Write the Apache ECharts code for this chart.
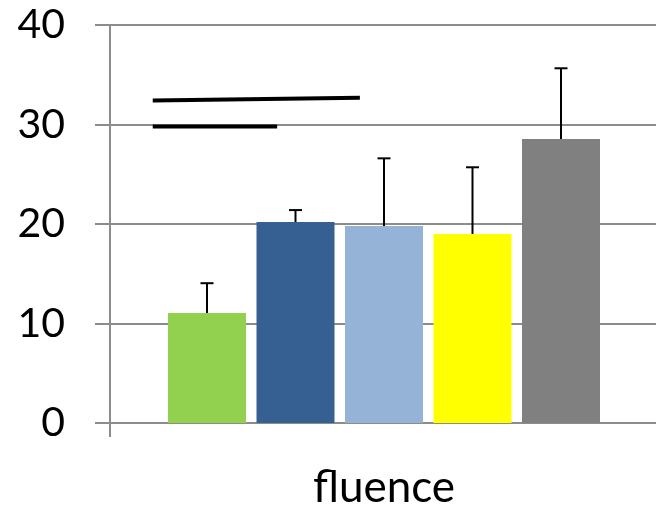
<!DOCTYPE html>
<html>
<head>
<meta charset="utf-8">
<script src="https://cdn.jsdelivr.net/npm/echarts@6/dist/echarts.min.js"></script>
<style>
html,body{margin:0;padding:0;background:#fff;}
#chart{width:656px;height:506px;}
</style>
</head>
<body>
<div id="chart"></div>
<script>
// ---- data ----
const categories = ['fluence'];
const seriesNames = ['Group 1', 'Group 2', 'Group 3', 'Group 4', 'Group 5'];
const means = [11.05, 20.2, 19.8, 19.0, 28.55];
const errUp = [3.0, 1.2, 6.8, 6.7, 7.1];
const yTicks = [0, 10, 20, 30, 40];
// significance lines: [fraction of plot width, value]
const sigLineA = [[0.078, 32.4], [0.456, 32.7]];
const sigLineB = [[0.078, 29.8], [0.305, 29.8]];

// ---- style ----
const colors = ['#92D050', '#376092', '#95B3D7', '#FFFF00', '#808080'];
const BAR_W = 78;
const GAP_PX = 10.5;
const axisGray = '#8c8c8c';
const FONT = 'Lato';

const chart = echarts.init(document.getElementById('chart'), null, {renderer: 'canvas'});

const barSeries = seriesNames.map((n, i) => ({
  name: n,
  type: 'bar',
  xAxisIndex: 0,
  yAxisIndex: 0,
  data: [means[i]],
  barWidth: BAR_W,
  barGap: (GAP_PX / BAR_W * 100) + '%',
  itemStyle: {color: colors[i]},
  z: 2
}));

const errData = means.map((m, i) => [0, m, m + errUp[i], i]);

const errSeries = {
  type: 'custom',
  xAxisIndex: 0,
  yAxisIndex: 0,
  data: errData,
  z: 5,
  clip: false,
  renderItem: function (params, api) {
    const i = api.value(3);
    const lo = api.coord([api.value(0), api.value(1)]);
    const hi = api.coord([api.value(0), api.value(2)]);
    const x = lo[0] + (i - (means.length - 1) / 2) * (BAR_W + GAP_PX);
    const cap = 6.5;
    return {
      type: 'group',
      children: [
        {type: 'line', shape: {x1: x, y1: lo[1], x2: x, y2: hi[1]}, style: {stroke: '#000', lineWidth: 2}},
        {type: 'line', shape: {x1: x - cap, y1: hi[1], x2: x + cap, y2: hi[1]}, style: {stroke: '#000', lineWidth: 2}}
      ]
    };
  }
};

const sigSeries = [sigLineA, sigLineB].map(d => ({
  type: 'line',
  xAxisIndex: 1,
  yAxisIndex: 0,
  data: d,
  showSymbol: false,
  symbol: 'none',
  lineStyle: {color: '#000', width: 4, cap: 'butt'},
  z: 6,
  silent: true
}));

chart.setOption({
  animation: false,
  backgroundColor: '#fff',
  grid: {left: 110, right: -2, top: 25, bottom: 83, containLabel: false, outerBoundsMode: 'none'},
  xAxis: [
    {
      type: 'category',
      data: categories,
      boundaryGap: true,
      axisLine: {show: true, lineStyle: {color: axisGray, width: 2}},
      axisTick: {show: true, length: 14, lineStyle: {color: axisGray, width: 2}},
      axisLabel: {fontFamily: FONT, fontSize: 44, color: '#000', margin: 43},
      splitLine: {show: false}
    },
    {
      type: 'value',
      min: 0,
      max: 1,
      show: false
    }
  ],
  yAxis: {
    type: 'value',
    min: yTicks[0],
    max: yTicks[yTicks.length - 1],
    interval: 10,
    axisLine: {show: true, lineStyle: {color: axisGray, width: 2}},
    axisTick: {show: true, length: 15, lineStyle: {color: axisGray, width: 2}},
    axisLabel: {fontFamily: FONT, fontSize: 41, color: '#000', margin: 45},
    splitLine: {show: true, lineStyle: {color: axisGray, width: 2}}
  },
  series: [...barSeries, errSeries, ...sigSeries]
});
</script>
</body>
</html>
